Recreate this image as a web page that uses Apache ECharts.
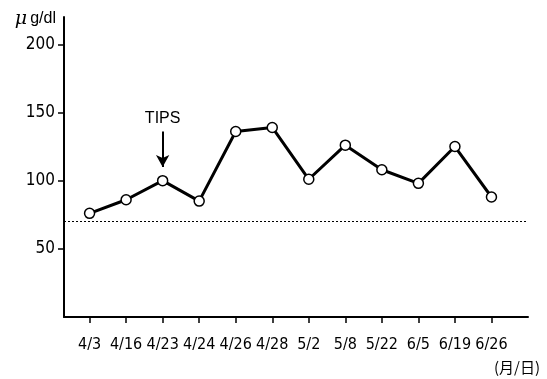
<!DOCTYPE html>
<html>
<head>
<meta charset="utf-8">
<script src="https://cdn.jsdelivr.net/npm/echarts@6/dist/echarts.min.js"></script>
<style>
  html, body { margin: 0; padding: 0; background: #fff; }
</style>
</head>
<body>
<div id="chart" style="width: 547px;height:379px;"></div>
<script>
// 日付（カテゴリ）と測定値
var dates = ['4/3', '4/16', '4/23', '4/24', '4/26', '4/28', '5/2', '5/8', '5/22', '6/5', '6/19', '6/26'];
var values = [76, 86, 100, 85, 136, 139, 101, 126, 108, 98, 125, 88];
var yTicks = [50, 100, 150, 200];
var refLine = 70;          // 点線の基準値
var tipsIndex = 2;         // TIPS の位置 (4/23)
var tipsRange = [136, 110]; // 矢印の上端・下端

var narrow = "'Liberation Sans Narrow', 'DejaVu Sans Condensed', sans-serif";
var idx = dates.map(function (d, i) { return i; });

var myChart = echarts.init(document.getElementById('chart'));
var option = {
  animation: false,
  grid: { left: 64, right: 19, top: 17, bottom: 62 },
  xAxis: {
    type: 'value',
    min: -0.7,
    max: 12,
    axisLine: { show: true, onZero: false, lineStyle: { color: '#000', width: 2 } },
    axisTick: { show: true, customValues: idx, length: 6, lineStyle: { color: '#000', width: 1.5 } },
    axisLabel: {
      customValues: idx,
      margin: 20,
      color: '#000',
      fontFamily: narrow,
      fontSize: 16,
      formatter: function (v) { return dates[v]; }
    },
    splitLine: { show: false }
  },
  yAxis: {
    type: 'value',
    min: 0,
    max: 220,
    name: '{mu|μ}g/dl',
    nameLocation: 'end',
    nameGap: -2,
    nameTextStyle: {
      color: '#000',
      fontFamily: "'Liberation Sans', Arial, sans-serif",
      fontSize: 16,
      align: 'right',
      verticalAlign: 'middle',
      padding: [0, 8, 0, 0],
      rich: {
        mu: { fontFamily: "'DejaVu Serif', serif", fontStyle: 'italic', fontSize: 19, color: '#000', padding: [0, 3, 0, 0] }
      }
    },
    axisLine: { show: true, onZero: false, lineStyle: { color: '#000', width: 2 } },
    axisTick: { show: true, customValues: yTicks, inside: false, length: 6, lineStyle: { color: '#000', width: 1.5 } },
    axisLabel: {
      customValues: yTicks,
      margin: 9,
      color: '#000',
      fontFamily: narrow,
      fontSize: 17
    },
    splitLine: { show: false }
  },
  series: [{
    type: 'line',
    data: values.map(function (v, i) { return [i, v]; }),
    symbol: 'circle',
    symbolSize: 10,
    lineStyle: { color: '#000', width: 3 },
    itemStyle: { color: '#fff', borderColor: '#000', borderWidth: 1.5 },
    z: 3,
    markLine: {
      silent: true,
      animation: false,
      data: [
        [
          { xAxis: -0.7, yAxis: refLine, symbol: 'none' },
          { xAxis: 12, yAxis: refLine, symbol: 'none' }
        ],
        [
          { coord: [tipsIndex, tipsRange[0]], symbol: 'none',
            label: { show: true, position: 'start', formatter: 'TIPS', distance: 5,
                     color: '#000', fontSize: 16, fontFamily: "'Liberation Sans', Arial, sans-serif" },
            lineStyle: { type: 'solid', width: 2, color: '#000' } },
          { coord: [tipsIndex, tipsRange[1]], symbol: 'arrow', symbolSize: [10, 12] }
        ]
      ],
      lineStyle: { color: '#000', type: [2, 2], width: 1 },
      label: { show: false }
    }
  }],
  graphic: [{
    type: 'text',
    right: 7,
    bottom: 4,
    style: {
      text: '(月/日)',
      fill: '#000',
      font: "15px 'Noto Sans CJK JP', sans-serif"
    }
  }]
};
myChart.setOption(option);
</script>
</body>
</html>
